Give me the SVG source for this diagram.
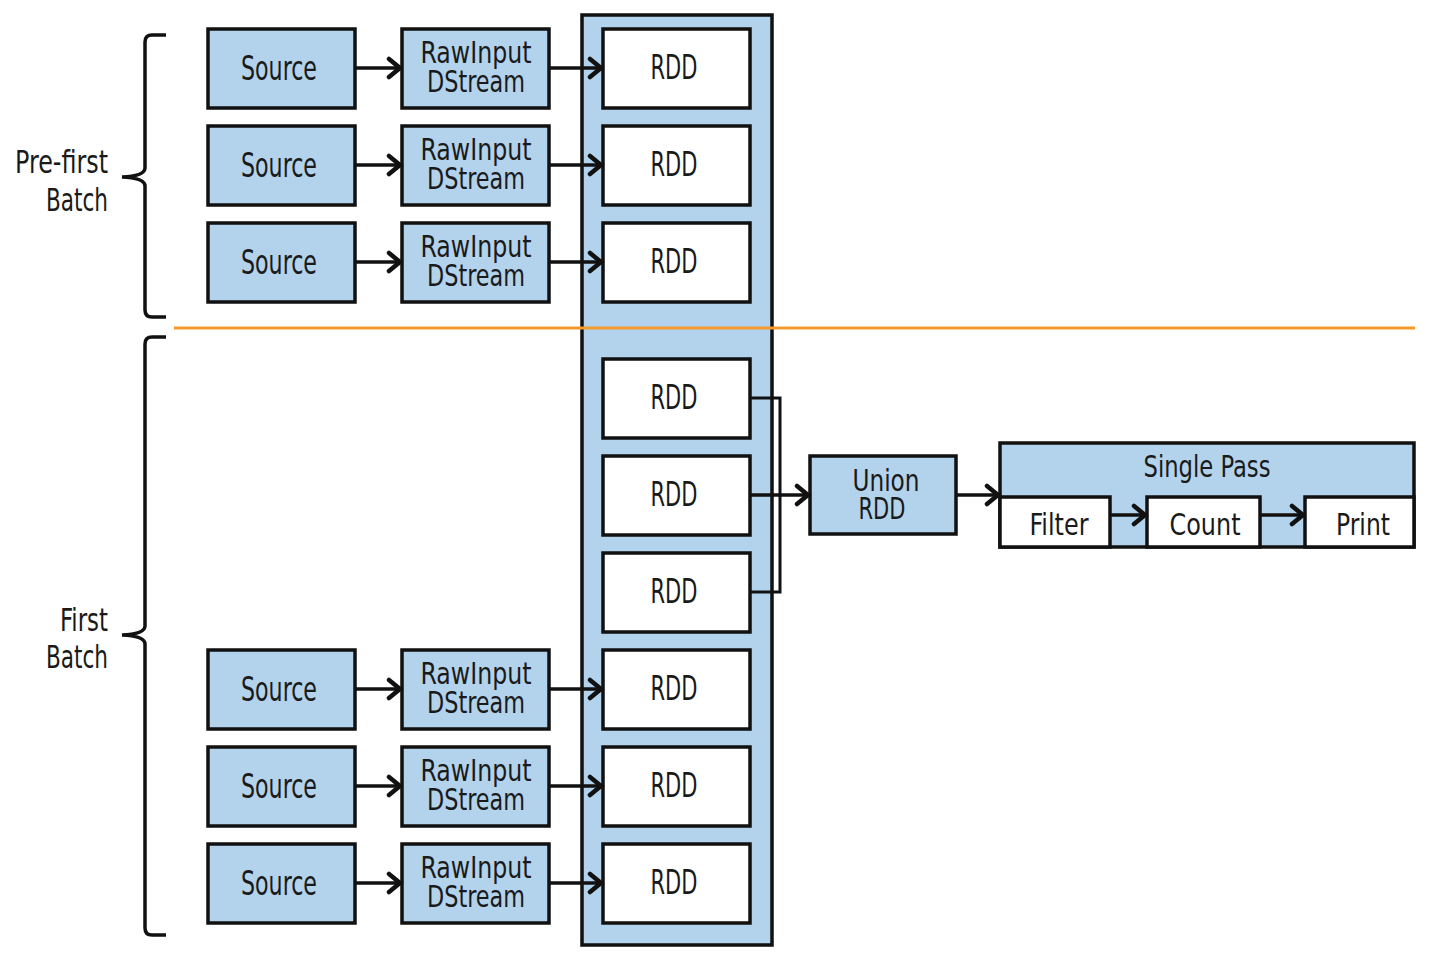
<svg xmlns="http://www.w3.org/2000/svg" width="1438" height="964" viewBox="0 0 1438 964">
  <style>
    .blue { fill: #B3D3EC; stroke: #111; stroke-width: 3.5; }
    .white { fill: #FFFFFF; stroke: #111; stroke-width: 3.5; }
    .lbl { font-family: "Liberation Sans Narrow", "DejaVu Sans Condensed", "Liberation Sans", sans-serif; fill: #1a1a1a; text-anchor: middle; }
    .big { font-size: 33px; }
    .mid { font-size: 30px; }
    .side { font-size: 32px; text-anchor: end; }
    .edge { fill: none; stroke: #111; stroke-width: 3.5; }
    .thin { fill: none; stroke: #111; stroke-width: 3; }
    .brace { fill: none; stroke: #111; stroke-width: 3.5; }
  </style>
  <defs>
    <marker id="arrow" viewBox="0 0 18 24" markerWidth="18" markerHeight="24" refX="15" refY="12" orient="auto" markerUnits="userSpaceOnUse">
      <path d="M3,3 L14,12 L3,21" fill="none" stroke="#111" stroke-width="4.5" stroke-linejoin="miter" stroke-linecap="round"/>
    </marker>
  </defs>

  <rect width="1438" height="964" fill="#FFFFFF"/>

  <!-- batch braces and labels -->
  <g id="brace-prefirst">
    <path class="brace" d="M166,35 H152 Q145,35 145,42 V168 Q145,176 122,177 Q145,178 145,186 V310 Q145,317 152,317 H166"/>
    <text class="lbl side" x="108" y="173" textLength="93" lengthAdjust="spacingAndGlyphs">Pre-first</text>
    <text class="lbl side" x="108" y="211" textLength="62" lengthAdjust="spacingAndGlyphs">Batch</text>
  </g>
  <g id="brace-first">
    <path class="brace" d="M166,337 H152 Q145,337 145,344 V626 Q145,634 122,635 Q145,636 145,644 V928 Q145,935 152,935 H166"/>
    <text class="lbl side" x="108" y="631" textLength="48" lengthAdjust="spacingAndGlyphs">First</text>
    <text class="lbl side" x="108" y="668" textLength="62" lengthAdjust="spacingAndGlyphs">Batch</text>
  </g>

  <!-- RDD column -->
  <g id="rdd-column">
    <rect class="blue" x="582" y="15" width="190" height="930"/>
  </g>

  <!-- batch separator -->
  <line x1="174" y1="328" x2="1415" y2="328" stroke="#F39A2C" stroke-width="3"/>

  <!-- sources -->
  <g id="source-1"><rect class="blue" x="208" y="29" width="147" height="79"/><text class="lbl big" x="279" y="80" textLength="76" lengthAdjust="spacingAndGlyphs">Source</text></g>
  <g id="source-2"><rect class="blue" x="208" y="126" width="147" height="79"/><text class="lbl big" x="279" y="177" textLength="76" lengthAdjust="spacingAndGlyphs">Source</text></g>
  <g id="source-3"><rect class="blue" x="208" y="223" width="147" height="79"/><text class="lbl big" x="279" y="274" textLength="76" lengthAdjust="spacingAndGlyphs">Source</text></g>
  <g id="source-4"><rect class="blue" x="208" y="650" width="147" height="79"/><text class="lbl big" x="279" y="701" textLength="76" lengthAdjust="spacingAndGlyphs">Source</text></g>
  <g id="source-5"><rect class="blue" x="208" y="747" width="147" height="79"/><text class="lbl big" x="279" y="798" textLength="76" lengthAdjust="spacingAndGlyphs">Source</text></g>
  <g id="source-6"><rect class="blue" x="208" y="844" width="147" height="79"/><text class="lbl big" x="279" y="895" textLength="76" lengthAdjust="spacingAndGlyphs">Source</text></g>

  <!-- raw input dstreams -->
  <g id="rawinput-1"><rect class="blue" x="402" y="29" width="147" height="79"/><text class="lbl mid" x="476" y="63" textLength="111" lengthAdjust="spacingAndGlyphs">RawInput</text><text class="lbl mid" x="476" y="92" textLength="98" lengthAdjust="spacingAndGlyphs">DStream</text></g>
  <g id="rawinput-2"><rect class="blue" x="402" y="126" width="147" height="79"/><text class="lbl mid" x="476" y="160" textLength="111" lengthAdjust="spacingAndGlyphs">RawInput</text><text class="lbl mid" x="476" y="189" textLength="98" lengthAdjust="spacingAndGlyphs">DStream</text></g>
  <g id="rawinput-3"><rect class="blue" x="402" y="223" width="147" height="79"/><text class="lbl mid" x="476" y="257" textLength="111" lengthAdjust="spacingAndGlyphs">RawInput</text><text class="lbl mid" x="476" y="286" textLength="98" lengthAdjust="spacingAndGlyphs">DStream</text></g>
  <g id="rawinput-4"><rect class="blue" x="402" y="650" width="147" height="79"/><text class="lbl mid" x="476" y="684" textLength="111" lengthAdjust="spacingAndGlyphs">RawInput</text><text class="lbl mid" x="476" y="713" textLength="98" lengthAdjust="spacingAndGlyphs">DStream</text></g>
  <g id="rawinput-5"><rect class="blue" x="402" y="747" width="147" height="79"/><text class="lbl mid" x="476" y="781" textLength="111" lengthAdjust="spacingAndGlyphs">RawInput</text><text class="lbl mid" x="476" y="810" textLength="98" lengthAdjust="spacingAndGlyphs">DStream</text></g>
  <g id="rawinput-6"><rect class="blue" x="402" y="844" width="147" height="79"/><text class="lbl mid" x="476" y="878" textLength="111" lengthAdjust="spacingAndGlyphs">RawInput</text><text class="lbl mid" x="476" y="907" textLength="98" lengthAdjust="spacingAndGlyphs">DStream</text></g>

  <!-- RDDs -->
  <g id="rdd-1"><rect class="white" x="603" y="29" width="147" height="79"/><text class="lbl big" x="674" y="79" textLength="47" lengthAdjust="spacingAndGlyphs">RDD</text></g>
  <g id="rdd-2"><rect class="white" x="603" y="126" width="147" height="79"/><text class="lbl big" x="674" y="176" textLength="47" lengthAdjust="spacingAndGlyphs">RDD</text></g>
  <g id="rdd-3"><rect class="white" x="603" y="223" width="147" height="79"/><text class="lbl big" x="674" y="273" textLength="47" lengthAdjust="spacingAndGlyphs">RDD</text></g>
  <g id="rdd-4"><rect class="white" x="603" y="359" width="147" height="79"/><text class="lbl big" x="674" y="409" textLength="47" lengthAdjust="spacingAndGlyphs">RDD</text></g>
  <g id="rdd-5"><rect class="white" x="603" y="456" width="147" height="79"/><text class="lbl big" x="674" y="506" textLength="47" lengthAdjust="spacingAndGlyphs">RDD</text></g>
  <g id="rdd-6"><rect class="white" x="603" y="553" width="147" height="79"/><text class="lbl big" x="674" y="603" textLength="47" lengthAdjust="spacingAndGlyphs">RDD</text></g>
  <g id="rdd-7"><rect class="white" x="603" y="650" width="147" height="79"/><text class="lbl big" x="674" y="700" textLength="47" lengthAdjust="spacingAndGlyphs">RDD</text></g>
  <g id="rdd-8"><rect class="white" x="603" y="747" width="147" height="79"/><text class="lbl big" x="674" y="797" textLength="47" lengthAdjust="spacingAndGlyphs">RDD</text></g>
  <g id="rdd-9"><rect class="white" x="603" y="844" width="147" height="79"/><text class="lbl big" x="674" y="894" textLength="47" lengthAdjust="spacingAndGlyphs">RDD</text></g>

  <!-- union RDD -->
  <g id="union-rdd">
    <rect class="blue" x="810" y="456" width="146" height="78"/>
    <text class="lbl mid" x="886" y="491" textLength="67" lengthAdjust="spacingAndGlyphs">Union</text>
    <text class="lbl mid" x="882" y="519" textLength="47" lengthAdjust="spacingAndGlyphs">RDD</text>
  </g>

  <!-- single pass stage -->
  <g id="single-pass">
    <rect class="blue" x="1000" y="443" width="414" height="104"/>
    <text class="lbl mid" x="1207" y="477" textLength="127" lengthAdjust="spacingAndGlyphs">Single Pass</text>
  </g>
  <g id="filter"><rect class="white" x="1000" y="497" width="110" height="50"/><text class="lbl mid" x="1059" y="535" textLength="59" lengthAdjust="spacingAndGlyphs">Filter</text></g>
  <g id="count"><rect class="white" x="1147" y="497" width="113" height="50"/><text class="lbl mid" x="1205" y="535" textLength="71" lengthAdjust="spacingAndGlyphs">Count</text></g>
  <g id="print"><rect class="white" x="1305" y="497" width="109" height="50"/><text class="lbl mid" x="1363" y="535" textLength="54" lengthAdjust="spacingAndGlyphs">Print</text></g>

  <!-- connectors -->
  <g id="connectors">
    <line class="edge" x1="355" y1="68" x2="401" y2="68" marker-end="url(#arrow)"/>
    <line class="edge" x1="355" y1="165" x2="401" y2="165" marker-end="url(#arrow)"/>
    <line class="edge" x1="355" y1="262" x2="401" y2="262" marker-end="url(#arrow)"/>
    <line class="edge" x1="355" y1="689" x2="401" y2="689" marker-end="url(#arrow)"/>
    <line class="edge" x1="355" y1="786" x2="401" y2="786" marker-end="url(#arrow)"/>
    <line class="edge" x1="355" y1="883" x2="401" y2="883" marker-end="url(#arrow)"/>

    <line class="edge" x1="549" y1="68" x2="602" y2="68" marker-end="url(#arrow)"/>
    <line class="edge" x1="549" y1="165" x2="602" y2="165" marker-end="url(#arrow)"/>
    <line class="edge" x1="549" y1="262" x2="602" y2="262" marker-end="url(#arrow)"/>
    <line class="edge" x1="549" y1="689" x2="602" y2="689" marker-end="url(#arrow)"/>
    <line class="edge" x1="549" y1="786" x2="602" y2="786" marker-end="url(#arrow)"/>
    <line class="edge" x1="549" y1="883" x2="602" y2="883" marker-end="url(#arrow)"/>

    <!-- merge of the three first-batch RDDs -->
    <path class="thin" d="M750,398 H780 V592 H750"/>
    <line class="edge" x1="750" y1="495" x2="809" y2="495" marker-end="url(#arrow)"/>

    <line class="edge" x1="956" y1="495" x2="999" y2="495" marker-end="url(#arrow)"/>
    <line class="edge" x1="1110" y1="515" x2="1146" y2="515" marker-end="url(#arrow)"/>
    <line class="edge" x1="1260" y1="515" x2="1304" y2="515" marker-end="url(#arrow)"/>
  </g>
</svg>
